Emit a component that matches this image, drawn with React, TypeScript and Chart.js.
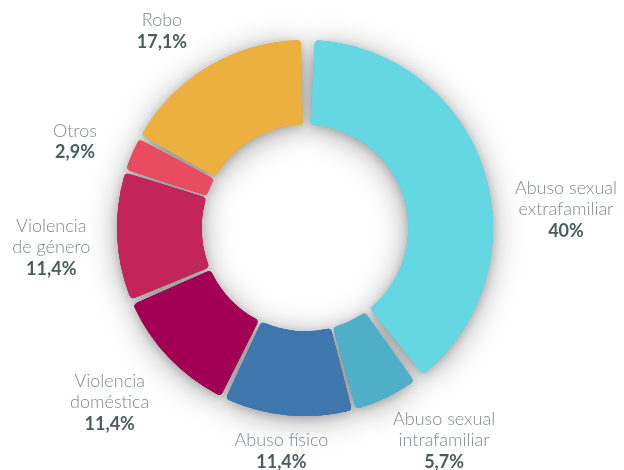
import React, { useEffect, useRef } from 'react';
import { Chart, registerables } from 'chart.js';

Chart.register(...registerables);

const categories = [
  'Abuso sexual extrafamiliar',
  'Abuso sexual intrafamiliar',
  'Abuso físico',
  'Violencia doméstica',
  'Violencia de género',
  'Otros',
  'Robo',
];
const labelLines = [
  ['Abuso sexual', 'extrafamiliar'],
  ['Abuso sexual', 'intrafamiliar'],
  ['Abuso físico'],
  ['Violencia', 'doméstica'],
  ['Violencia', 'de género'],
  ['Otros'],
  ['Robo'],
];
const values = [40, 5.7, 11.4, 11.4, 11.4, 2.9, 17.1];
const valueLabels = ['40%', '5,7%', '11,4%', '11,4%', '11,4%', '2,9%', '17,1%'];
const colors = ['#64D7E2', '#4FAFC9', '#3E77AE', '#A10054', '#C3255B', '#E94C60', '#ECB040'];

// label nudges relative to the radial anchor point (styling only)
const labelNudges = [
  [25, 58],
  [32, -11],
  [-1, -24],
  [-16, 3],
  [-6, 8],
  [-2, 11],
  [-16, 16],
];

const shadowPlugin = {
  id: 'ringShadow',
  beforeDatasetsDraw(chart: any) {
    const ctx = chart.ctx;
    const meta = chart.getDatasetMeta(0);
    ctx.save();
    ctx.shadowColor = 'rgba(0,0,0,0.35)';
    ctx.shadowBlur = 30;
    ctx.shadowOffsetX = 0;
    ctx.shadowOffsetY = 4;
    meta.data.forEach((a: any) => a.draw(ctx));
    ctx.shadowColor = 'rgba(0,0,0,0.18)';
    ctx.shadowBlur = 10;
    ctx.shadowOffsetY = 2;
    meta.data.forEach((a: any) => a.draw(ctx));
    ctx.restore();
  },
};

const labelPlugin = {
  id: 'outerLabels',
  afterDatasetsDraw(chart: any) {
    const ctx = chart.ctx;
    const meta = chart.getDatasetMeta(0);
    const lineH = 21.5;
    meta.data.forEach((arc: any, i: number) => {
      const p = arc.getProps(['x', 'y', 'startAngle', 'endAngle', 'outerRadius'], true);
      const mid = (p.startAngle + p.endAngle) / 2;
      const r = p.outerRadius + 66;
      const cx = p.x + Math.cos(mid) * r + labelNudges[i][0];
      const cy = p.y + Math.sin(mid) * r + labelNudges[i][1];
      const lines = labelLines[i];
      const n = lines.length + 1;
      const top = cy - ((n - 1) * lineH) / 2;
      ctx.save();
      ctx.textAlign = 'center';
      ctx.textBaseline = 'middle';
      lines.forEach((t, k) => {
        ctx.font = '300 18px Lato';
        ctx.fillStyle = '#7C8989';
        ctx.fillText(t, cx, top + k * lineH);
      });
      ctx.font = 'bold 18px Lato';
      ctx.fillStyle = '#4B5C5C';
      ctx.fillText(valueLabels[i], cx, top + lines.length * lineH);
      ctx.restore();
    });
  },
};

export default function App() {
  const ref = useRef<HTMLCanvasElement>(null);
  useEffect(() => {
    document.body.style.margin = '0';
    const chart = new Chart(ref.current as HTMLCanvasElement, {
      type: 'doughnut',
      data: {
        labels: categories,
        datasets: [
          {
            data: values,
            backgroundColor: colors,
            borderWidth: 0,
            hoverBorderWidth: 0,
            hoverOffset: 0,
            offset: 0,
            borderRadius: 4,
            spacing: 12,
          } as any,
        ],
      },
      options: {
        animation: false,
        responsive: true,
        maintainAspectRatio: false,
        cutout: '53.5%',
        layout: { padding: { left: 117, right: 131, top: 40, bottom: 54 } },
        plugins: { legend: { display: false }, tooltip: { enabled: false } },
      } as any,
      plugins: [shadowPlugin, labelPlugin],
    });
    return () => chart.destroy();
  }, []);
  return (
    <div style={{ position: 'fixed', left: 0, top: 0, width: 624, height: 470, background: '#fff' }}>
      <canvas ref={ref} />
    </div>
  );
}
